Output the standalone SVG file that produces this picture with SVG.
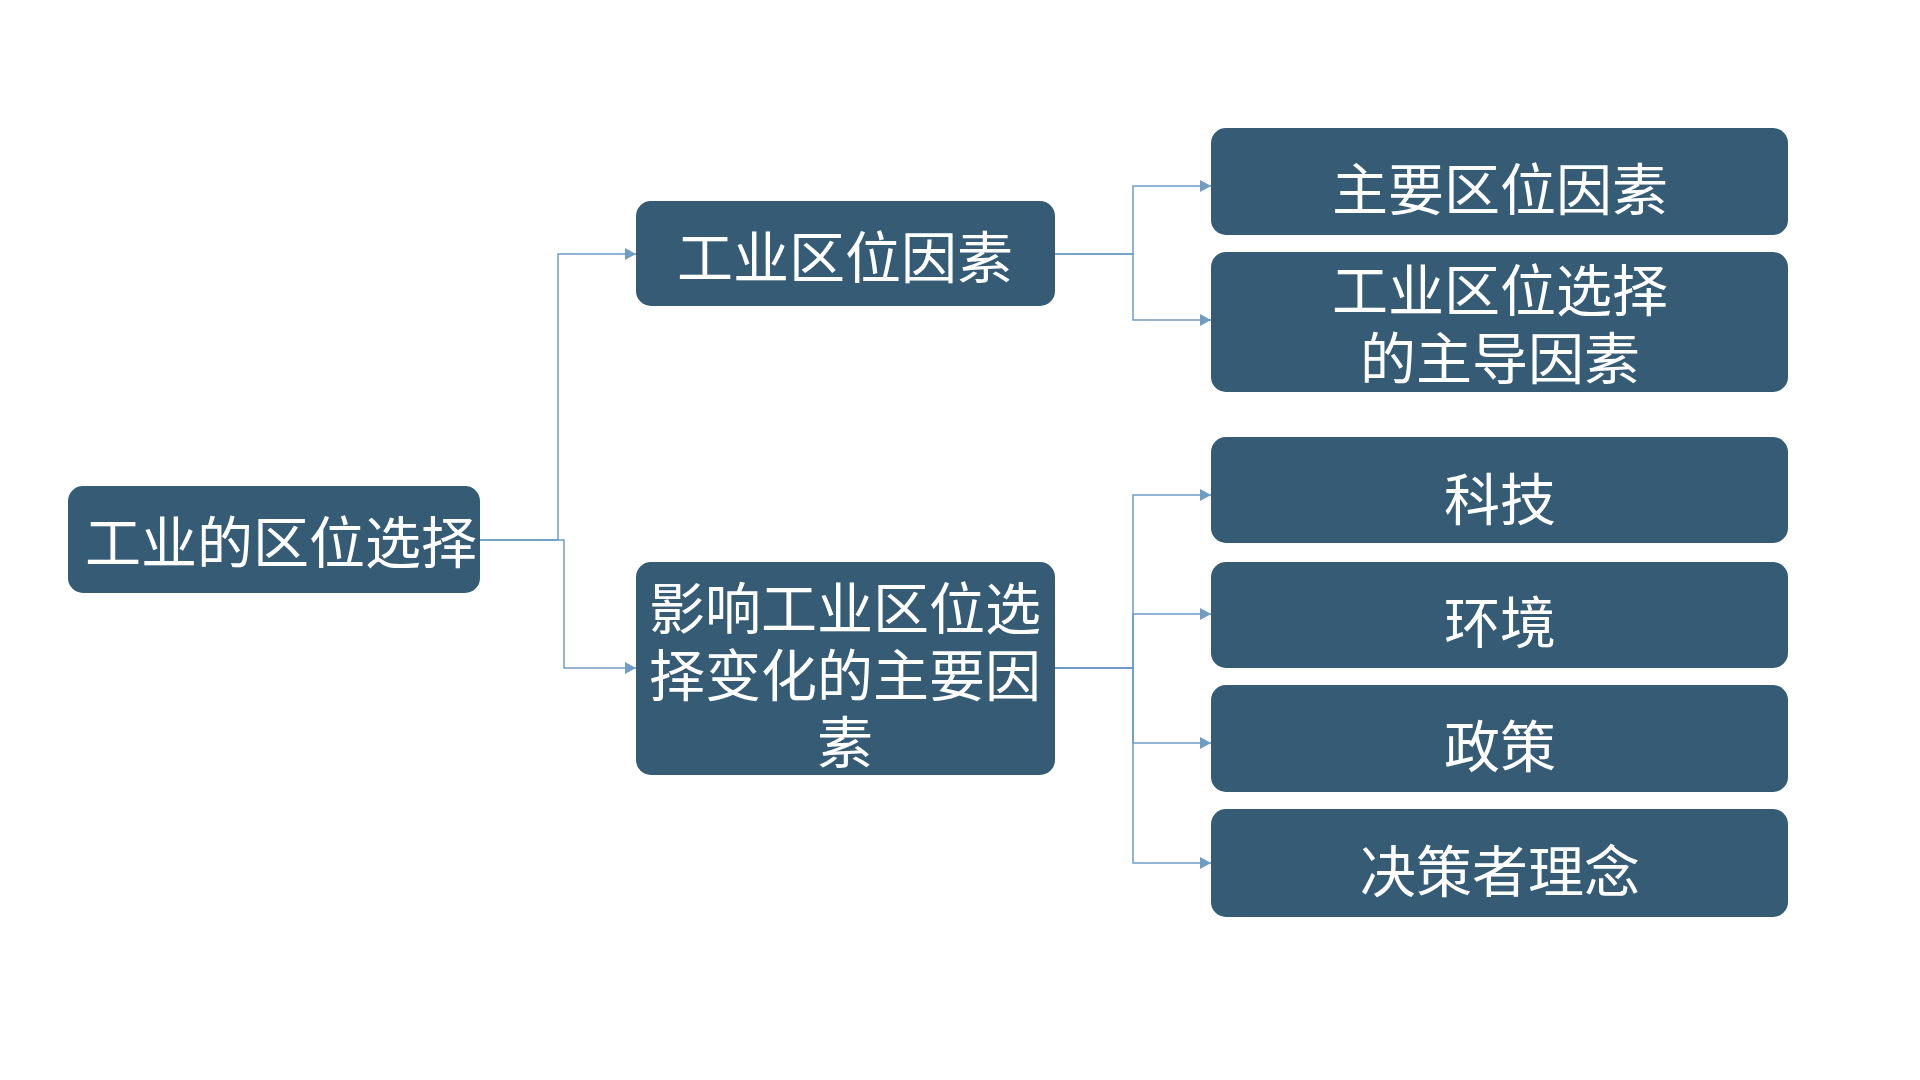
<svg xmlns="http://www.w3.org/2000/svg" width="1920" height="1080" viewBox="0 0 1920 1080">
<style>
.box{fill:#355B75;}
.t{fill:#FFFFFF;font-family:"Microsoft YaHei","Noto Sans CJK SC","Noto Sans",sans-serif;font-size:56px;text-anchor:middle;}
.c{fill:none;stroke:#6F9CC4;stroke-width:1.5;marker-end:url(#arr);}
</style>
<defs>
<marker id="arr" markerUnits="userSpaceOnUse" markerWidth="12" markerHeight="12" refX="11" refY="6" orient="auto">
<path d="M0,0 L11,6 L0,12 z" fill="#6F9CC4"/>
</marker>
</defs>
<rect width="1920" height="1080" fill="#FFFFFF"/>
<g id="connectors">
<path class="c" d="M480,540 H558 V254 H636"/>
<path class="c" d="M480,540 H564 V668 H636"/>
<path class="c" d="M1055,254 H1133 V186 H1211"/>
<path class="c" d="M1055,254 H1133 V320 H1211"/>
<path class="c" d="M1055,668 H1133 V495 H1211"/>
<path class="c" d="M1055,668 H1133 V614 H1211"/>
<path class="c" d="M1055,668 H1133 V743 H1211"/>
<path class="c" d="M1055,668 H1133 V863 H1211"/>
</g>
<g id="root">
<rect class="box" x="68" y="486" width="412" height="107" rx="15"/>
<text class="t" x="281" y="563">工业的区位选择</text>
</g>
<g id="n_factors">
<rect class="box" x="636" y="201" width="419" height="105" rx="15"/>
<text class="t" x="845" y="278">工业区位因素</text>
</g>
<g id="n_change">
<rect class="box" x="636" y="562" width="419" height="213" rx="15"/>
<text class="t" x="845" y="629">影响工业区位选</text>
<text class="t" x="845" y="696">择变化的主要因</text>
<text class="t" x="845" y="763">素</text>
</g>
<g id="n_main">
<rect class="box" x="1211" y="128" width="577" height="107" rx="15"/>
<text class="t" x="1500" y="210">主要区位因素</text>
</g>
<g id="n_dominant">
<rect class="box" x="1211" y="252" width="577" height="140" rx="15"/>
<text class="t" x="1500" y="311">工业区位选择</text>
<text class="t" x="1500" y="379">的主导因素</text>
</g>
<g id="n_tech">
<rect class="box" x="1211" y="437" width="577" height="106" rx="15"/>
<text class="t" x="1500" y="520">科技</text>
</g>
<g id="n_env">
<rect class="box" x="1211" y="562" width="577" height="106" rx="15"/>
<text class="t" x="1500" y="643">环境</text>
</g>
<g id="n_policy">
<rect class="box" x="1211" y="685" width="577" height="107" rx="15"/>
<text class="t" x="1500" y="767">政策</text>
</g>
<g id="n_idea">
<rect class="box" x="1211" y="809" width="577" height="108" rx="15"/>
<text class="t" x="1500" y="892">决策者理念</text>
</g>
</svg>
